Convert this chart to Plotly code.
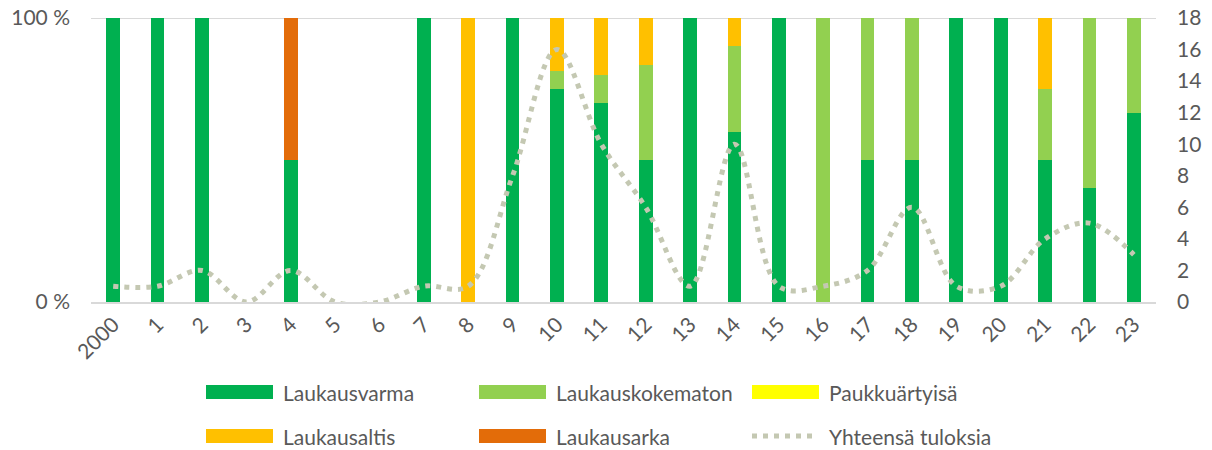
import plotly.graph_objects as go

years = ["2000", "1", "2", "3", "4", "5", "6", "7", "8", "9", "10", "11",
         "12", "13", "14", "15", "16", "17", "18", "19", "20", "21", "22", "23"]

laukausvarma     = [1, 1, 2, 0, 1, 0, 0, 1, 0, 8, 12, 7, 3, 1, 6, 1, 0, 1, 3, 1, 1, 2, 2, 2]
laukauskokematon = [0, 0, 0, 0, 0, 0, 0, 0, 0, 0, 1, 1, 2, 0, 3, 0, 1, 1, 3, 0, 0, 1, 3, 1]
paukkuartyisa    = [0, 0, 0, 0, 0, 0, 0, 0, 0, 0, 0, 0, 0, 0, 0, 0, 0, 0, 0, 0, 0, 0, 0, 0]
laukausaltis     = [0, 0, 0, 0, 0, 0, 0, 0, 1, 0, 3, 2, 1, 0, 1, 0, 0, 0, 0, 0, 0, 1, 0, 0]
laukausarka      = [0, 0, 0, 0, 1, 0, 0, 0, 0, 0, 0, 0, 0, 0, 0, 0, 0, 0, 0, 0, 0, 0, 0, 0]
yhteensa         = [1, 1, 2, 0, 2, 0, 0, 1, 1, 8, 16, 10, 6, 1, 10, 1, 1, 2, 6, 1, 1, 4, 5, 3]

series = [
    ("Laukausvarma", laukausvarma, "#00b050"),
    ("Laukauskokematon", laukauskokematon, "#92d050"),
    ("Paukkuärtyisä", paukkuartyisa, "#ffff00"),
    ("Laukausaltis", laukausaltis, "#ffc000"),
    ("Laukausarka", laukausarka, "#e36c09"),
]
line_color = "#c4c8b2"
FONT = "Lato"
TXT = "#595959"
GRID = "#d9d9d9"
FS = 21

fig = go.Figure()
for name, vals, col in series:
    fig.add_trace(go.Bar(x=years, y=vals, name=name, marker_color=col,
                         marker_line_width=0, showlegend=False))
fig.add_trace(go.Scatter(x=years, y=yhteensa, name="Yhteensä tuloksia", yaxis="y2",
                         mode="lines", line=dict(color=line_color, width=5, dash="5px,6px",
                                                 shape="spline", smoothing=1),
                         showlegend=False))

W, H = 1212, 450
L, R, T, B = 91, 56, 18, 148
pw, ph = W - L - R, H - T - B

def px(x):
    return (x - L) / pw

def py(y):
    return (H - B - y) / ph

legend_items = [
    ("Laukausvarma", "#00b050", "bar", 206, 392),
    ("Laukauskokematon", "#92d050", "bar", 479, 392),
    ("Paukkuärtyisä", "#ffff00", "bar", 752, 392),
    ("Laukausaltis", "#ffc000", "bar", 206, 436),
    ("Laukausarka", "#e36c09", "bar", 479, 436),
    ("Yhteensä tuloksia", line_color, "line", 752, 436),
]
# top gridline (100 %) drawn below the bars
shapes = [dict(type="line", xref="paper", yref="y", x0=0, x1=1, y0=100, y1=100,
               line=dict(color=GRID, width=2), layer="below")]
annotations = []
for name, col, kind, x0, yc in legend_items:
    if kind == "bar":
        shapes.append(dict(type="rect", xref="paper", yref="paper",
                           x0=px(x0), x1=px(x0 + 67), y0=py(yc - 7), y1=py(yc + 7),
                           fillcolor=col, line_width=0))
    else:
        shapes.append(dict(type="line", xref="paper", yref="paper",
                           x0=px(x0), x1=px(x0 + 64), y0=py(yc), y1=py(yc),
                           line=dict(color=col, width=5, dash="5px,6px")))
    annotations.append(dict(text=name, xref="paper", yref="paper", x=px(x0 + 75), y=py(yc),
                            xanchor="left", yanchor="middle", showarrow=False,
                            font=dict(family=FONT, size=FS, color=TXT)))

fig.update_layout(
    width=W, height=H,
    margin=dict(l=L, r=R, t=T, b=B, autoexpand=False),
    paper_bgcolor="white", plot_bgcolor="white",
    barmode="stack", barnorm="percent", bargap=0.69,
    font=dict(family=FONT, size=FS, color=TXT),
    xaxis=dict(type="category", tickangle=-45, showgrid=False, showline=True,
               linecolor=GRID, linewidth=2, ticks="", automargin=False,
               tickfont=dict(size=FS, color=TXT)),
    yaxis=dict(range=[0, 100], tickvals=[0, 100], ticktext=["0 %", "100 %"],
               showgrid=True, gridcolor=GRID, gridwidth=2, zeroline=False,
               automargin=False, ticklabelstandoff=20,
               tickfont=dict(size=FS, color=TXT)),
    yaxis2=dict(overlaying="y", side="right", range=[0, 18], dtick=2,
                showgrid=False, zeroline=False, automargin=False, ticklabelstandoff=20,
                tickfont=dict(size=FS, color=TXT)),
    shapes=shapes,
    annotations=annotations,
    showlegend=False,
)

fig.write_html("out.html", config={"displayModeBar": False},
               post_script="document.body.style.margin='0px';")
